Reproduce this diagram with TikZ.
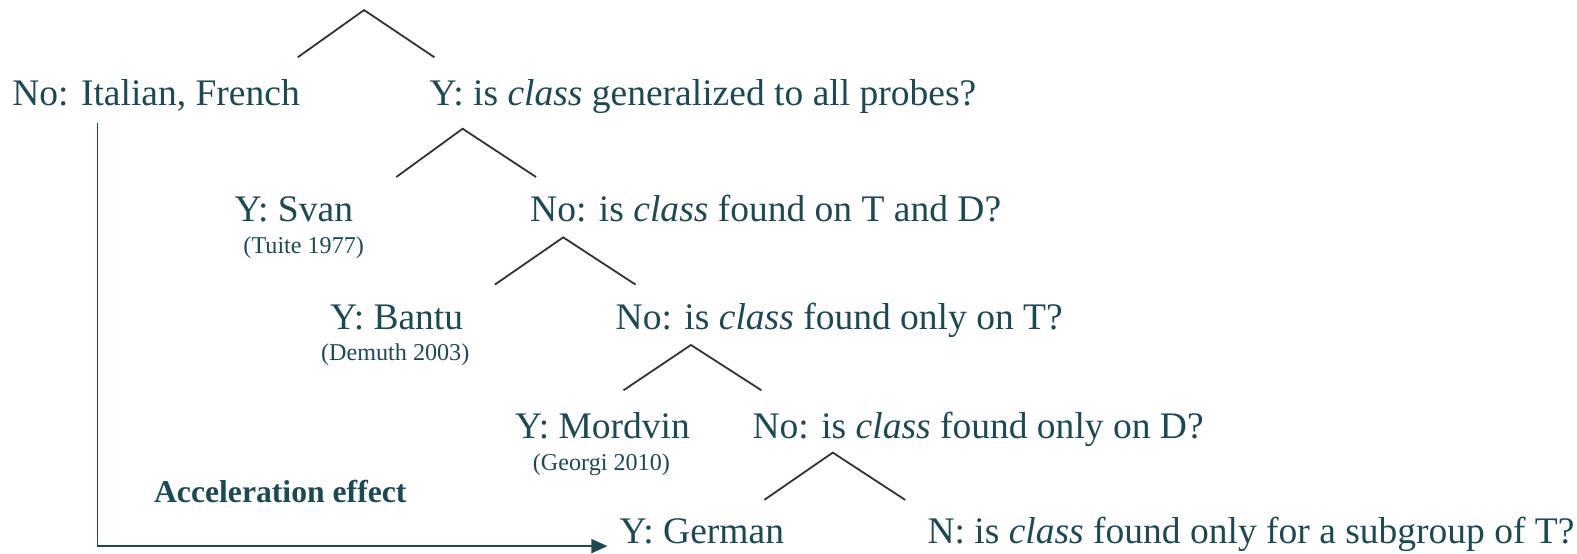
\documentclass[tikz,border=0pt]{standalone}
\usepackage{fontspec}
\setmainfont{Liberation Serif}
\usetikzlibrary{arrows.meta}
\definecolor{txt}{HTML}{1B4A55}
\definecolor{ln}{HTML}{333333}
\begin{document}
\begin{tikzpicture}[x=1pt,y=-1pt,
  lab/.style={font=\fontsize{37.3}{40}\selectfont, text=txt, inner sep=0pt, anchor=base west},
  cite/.style={font=\fontsize{24}{26}\selectfont, text=txt, inner sep=0pt, anchor=base},
  acc/.style={font=\fontsize{31.5}{34}\selectfont\bfseries, text=txt, inner sep=0pt, anchor=base west},
  branch/.style={draw=ln, line width=1.8pt},
  accline/.style={draw=txt, line width=1.5pt, -{Triangle[length=16pt,width=14pt]}},
]
\useasboundingbox (0,0) rectangle (1568,550);

% labels
\node[lab] (it) at (12,105) {No: Italian, French};
\node[lab] (q1) at (427,105) {Y: is \textit{class} generalized to all probes?};
\node[lab] (svan) at (233,220) {Y: Svan};
\node[cite] (svanc) at (302,252) {(Tuite 1977)};
\node[lab] (q2) at (527,220) {No: is \textit{class} found on T and D?};
\node[lab] (bantu) at (328,328) {Y: Bantu};
\node[cite] (bantuc) at (393,358) {(Demuth 2003)};
\node[lab] (q3) at (612,328) {No: is \textit{class} found only on T?};
\node[lab] (mord) at (512,436) {Y: Mordvin};
\node[cite] (mordc) at (598,468) {(Georgi 2010)};
\node[lab] (q4) at (748,436) {No: is \textit{class} found only on D?};
\node[lab] (germ) at (616,540) {Y: German};
\node[lab] (q5) at (922,540) {N: is \textit{class} found only for a subgroup of T?};
\node[acc] (acc) at (153,500) {Acceleration effect};

% branches
\coordinate (a1) at (362,10);  \coordinate (a1l) at (296,57);  \coordinate (a1r) at (432,57);
\coordinate (a2) at (460,128); \coordinate (a2l) at (394,176); \coordinate (a2r) at (533,176);
\coordinate (a3) at (560,236); \coordinate (a3l) at (492,283); \coordinate (a3r) at (632,283);
\coordinate (a4) at (687,343); \coordinate (a4l) at (620,388); \coordinate (a4r) at (757,388);
\coordinate (a5) at (828,450); \coordinate (a5l) at (760,497); \coordinate (a5r) at (900,497);
\draw[branch] (a1l) -- (a1) -- (a1r);
\draw[branch] (a2l) -- (a2) -- (a2r);
\draw[branch] (a3l) -- (a3) -- (a3r);
\draw[branch] (a4l) -- (a4) -- (a4r);
\draw[branch] (a5l) -- (a5) -- (a5r);

% acceleration arrow
\coordinate (s) at (97,122);
\coordinate (e) at (604,543);
\draw[accline] (s) |- (e);
\end{tikzpicture}
\end{document}
